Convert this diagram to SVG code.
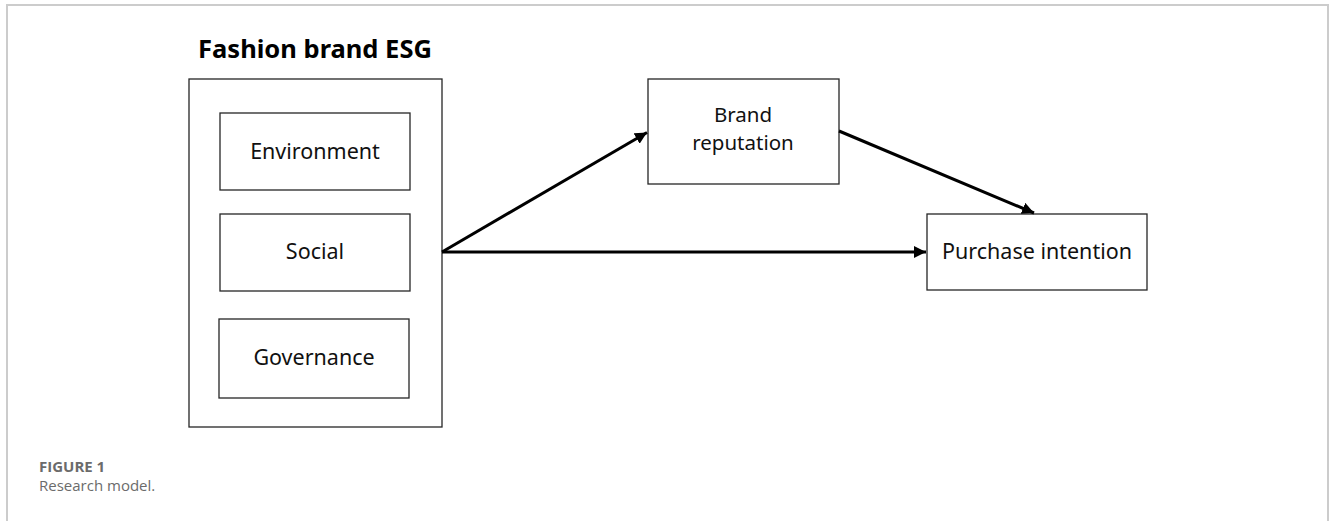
<svg xmlns="http://www.w3.org/2000/svg" width="1330" height="521" viewBox="0 0 1330 521">
<defs>
<style>
.frame{fill:none;stroke:#cccccc;stroke-width:2}
.box{fill:#ffffff;stroke:#262626;stroke-width:1.3}
.lbl{font-family:"Noto Sans","DejaVu Sans",sans-serif;font-size:21.5px;fill:#111111;text-anchor:middle}
.lbl2{font-size:20.5px}
.title{font-family:"Noto Sans","DejaVu Sans",sans-serif;font-size:25.5px;font-weight:bold;fill:#000000;text-anchor:middle}
.conn{fill:none;stroke:#000000;stroke-width:3}
.cap1{font-family:"Open Sans","Noto Sans",sans-serif;font-size:15px;font-weight:bold;fill:#6b6b6b}
.cap2{font-family:"Open Sans","Noto Sans",sans-serif;font-size:15px;fill:#6b6b6b}
</style>
<marker id="arr" viewBox="0 0 10 10" refX="10" refY="5" markerWidth="4" markerHeight="4" orient="auto" markerUnits="strokeWidth">
<path d="M0,0 L10,5 L0,10 z" fill="#000000"/>
</marker>
</defs>
<rect width="1330" height="521" fill="#ffffff"/>
<path class="frame" d="M7,521 V5 H1328 V521"/>
<g id="esg">
<text class="title" x="315" y="58">Fashion brand ESG</text>
<rect class="box" x="189" y="79" width="253" height="348"/>
</g>
<g id="environment">
<rect class="box" x="220" y="113" width="190" height="77"/>
<text class="lbl" x="315" y="159">Environment</text>
</g>
<g id="social">
<rect class="box" x="220" y="214" width="190" height="77"/>
<text class="lbl" x="315" y="259">Social</text>
</g>
<g id="governance">
<rect class="box" x="219" y="319" width="190" height="79"/>
<text class="lbl" x="314" y="365">Governance</text>
</g>
<g id="brand-reputation">
<rect class="box" x="648" y="79" width="191" height="105"/>
<text class="lbl lbl2" x="743" y="122">Brand</text>
<text class="lbl lbl2" x="743" y="150">reputation</text>
</g>
<g id="purchase-intention">
<rect class="box" x="927" y="214" width="220" height="76"/>
<text class="lbl" x="1037" y="259">Purchase intention</text>
</g>
<g id="connectors">
<line class="conn" x1="442" y1="252" x2="647" y2="132.5" marker-end="url(#arr)"/>
<line class="conn" x1="442" y1="252" x2="926" y2="252" marker-end="url(#arr)"/>
<line class="conn" x1="839" y1="131" x2="1034" y2="213" marker-end="url(#arr)"/>
</g>
<text class="cap1" x="39" y="472">FIGURE 1</text>
<text class="cap2" x="39" y="491">Research model.</text>
</svg>
